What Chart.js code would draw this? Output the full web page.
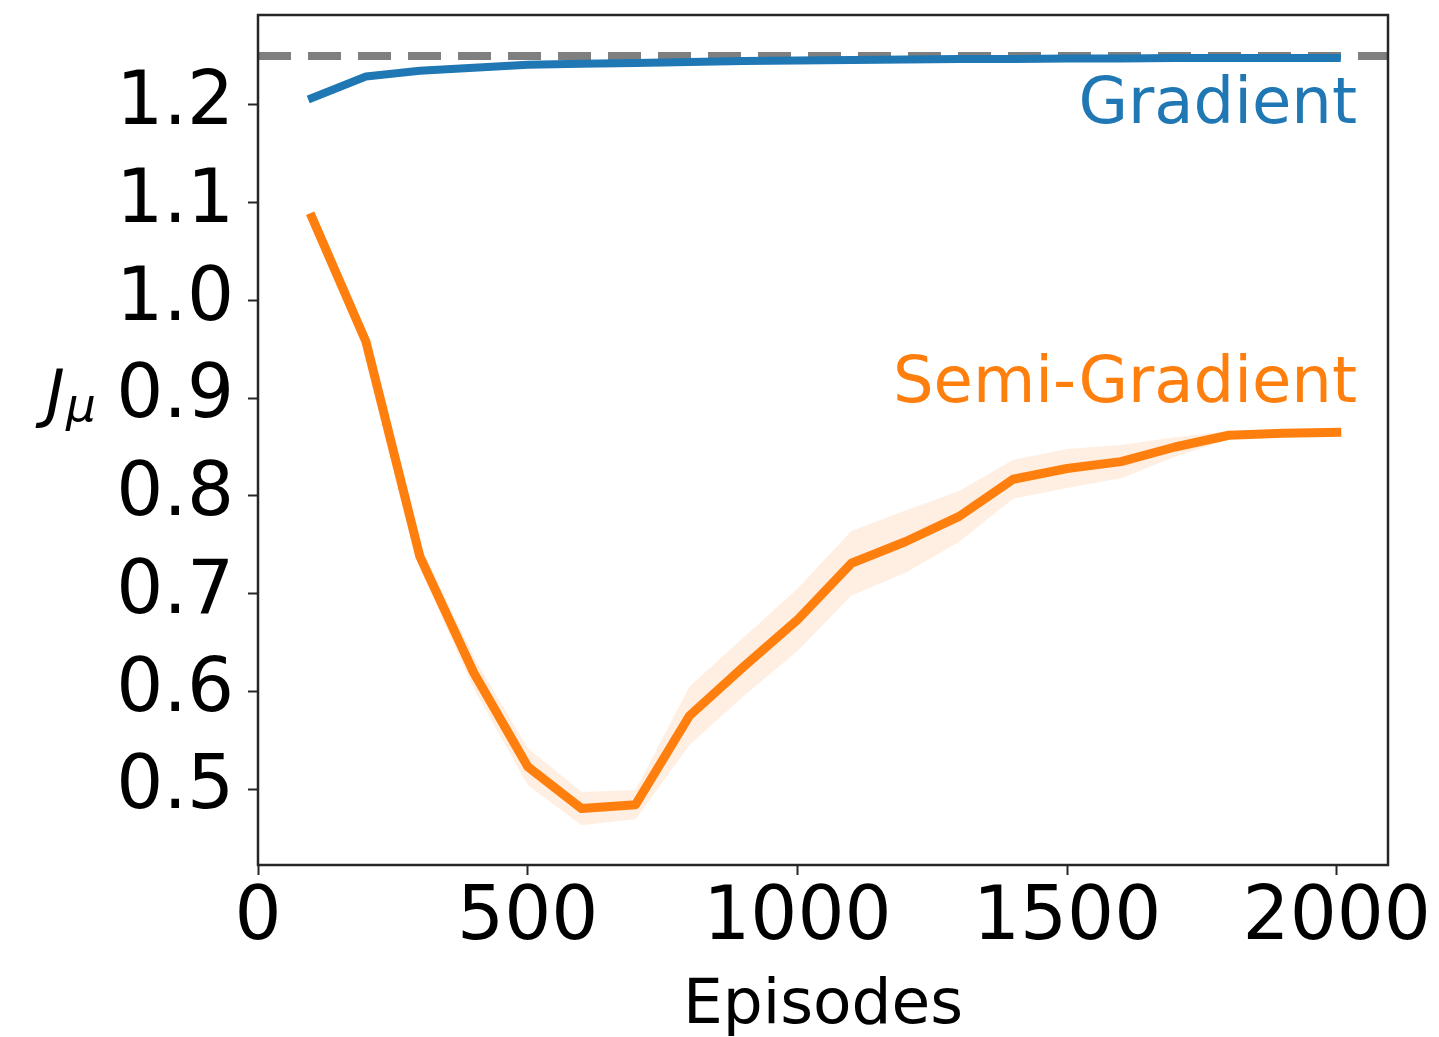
<!DOCTYPE html>
<html>
<head>
<meta charset="utf-8">
<script src="https://cdn.jsdelivr.net/npm/chart.js@4.4.1/dist/chart.umd.min.js"></script>
<style>
  html, body { margin: 0; padding: 0; background: #ffffff; }
  #wrap { width: 1439px; height: 1037px; }
</style>
</head>
<body>
<div id="wrap"><canvas id="chart" width="1439" height="1037"></canvas></div>
<script>
// Training episodes at which the policy was evaluated
const episodes = [100, 200, 300, 400, 500, 600, 700, 800, 900, 1000,
                  1100, 1200, 1300, 1400, 1500, 1600, 1700, 1800, 1900, 2000];

// Mean objective J_mu reached by the gradient method
const gradientMean = [1.207, 1.229, 1.235, 1.238, 1.241, 1.242, 1.243, 1.244, 1.245, 1.2455,
                      1.246, 1.2465, 1.247, 1.247, 1.2475, 1.2475, 1.248, 1.248, 1.248, 1.248];

// Mean objective J_mu reached by the semi-gradient method
const semiMean = [1.085, 0.958, 0.738, 0.619, 0.523, 0.480, 0.484, 0.575, 0.625, 0.673,
                  0.731, 0.753, 0.779, 0.817, 0.828, 0.835, 0.850, 0.862, 0.864, 0.865];

// Half-width of the shaded spread around the semi-gradient mean
const semiSpread = [0.003, 0.006, 0.012, 0.016, 0.019, 0.017, 0.015, 0.030, 0.030, 0.032,
                    0.033, 0.032, 0.026, 0.020, 0.020, 0.017, 0.010, 0.004, 0.003, 0.003];

// Optimal value of the objective (dashed reference line)
const optimumValue = 1.25;

// Axis limits and tick values
const xLimits = [0, 2095];
const yLimits = [0.4223, 1.292];
const xTickValues = [0, 500, 1000, 1500, 2000];
const yTickValues = [0.5, 0.6, 0.7, 0.8, 0.9, 1.0, 1.1, 1.2];

const FONT = "'DejaVu Sans', 'Liberation Sans', sans-serif";
const BLUE = '#1f77b4';
const ORANGE = '#ff7f0e';
const GRAY = '#7f7f7f';

const pts = (ys) => episodes.map((x, i) => ({ x: x, y: ys[i] }));
const semiUpper = semiMean.map((m, i) => m + semiSpread[i]);
const semiLower = semiMean.map((m, i) => m - semiSpread[i]);

// Frame around the plotting area plus the free-standing text labels
const decorations = {
  id: 'decorations',
  afterDraw(chart) {
    const { ctx, chartArea: a } = chart;
    ctx.save();
    ctx.strokeStyle = '#262626';
    ctx.lineWidth = 2.5;
    ctx.strokeRect(a.left, a.top, a.right - a.left, a.bottom - a.top);

    ctx.textBaseline = 'alphabetic';
    ctx.textAlign = 'right';
    ctx.font = '64px ' + FONT;
    ctx.fillStyle = BLUE;
    ctx.fillText('Gradient', a.right - 31, 123);
    ctx.fillStyle = ORANGE;
    ctx.fillText('Semi-Gradient', a.right - 31, 402);

    ctx.textAlign = 'center';
    ctx.fillStyle = '#000000';
    ctx.font = '63px ' + FONT;
    ctx.fillText('Episodes', (a.left + a.right) / 2, 1023);

    // y-axis label J_mu, written horizontally with an italic subscript
    ctx.textAlign = 'left';
    ctx.font = 'italic 64px ' + FONT;
    ctx.fillText('J', 46, 415);
    const jw = ctx.measureText('J').width;
    ctx.font = 'italic 47px ' + FONT;
    ctx.fillText('\u03bc', 46 + jw + 1, 421);
    ctx.restore();
  }
};

const tickGrid = {
  drawOnChartArea: false,
  drawTicks: true,
  tickLength: 10,
  tickWidth: 2,
  tickColor: '#262626'
};

new Chart(document.getElementById('chart'), {
  type: 'line',
  data: {
    datasets: [
      {
        label: 'Gradient',
        data: pts(gradientMean),
        borderColor: BLUE,
        borderWidth: 8,
        borderCapStyle: 'square',
        borderJoinStyle: 'round',
        pointRadius: 0,
        fill: false,
        tension: 0
      },
      {
        label: 'Semi-Gradient',
        data: pts(semiMean),
        borderColor: ORANGE,
        borderWidth: 9,
        borderCapStyle: 'square',
        borderJoinStyle: 'round',
        pointRadius: 0,
        fill: false,
        tension: 0
      },
      {
        label: 'semi upper',
        data: pts(semiUpper),
        borderWidth: 0,
        borderColor: 'rgba(0,0,0,0)',
        pointRadius: 0,
        fill: false,
        tension: 0
      },
      {
        label: 'semi lower',
        data: pts(semiLower),
        borderWidth: 0,
        borderColor: 'rgba(0,0,0,0)',
        backgroundColor: 'rgba(255,127,14,0.12)',
        pointRadius: 0,
        fill: '-1',
        tension: 0
      },
      {
        label: 'optimum',
        data: [{ x: xLimits[0], y: optimumValue }, { x: xLimits[1], y: optimumValue }],
        borderColor: GRAY,
        borderWidth: 8,
        borderDash: [33, 17],
        borderCapStyle: 'butt',
        pointRadius: 0,
        fill: false
      }
    ]
  },
  options: {
    responsive: false,
    animation: false,
    devicePixelRatio: 1,
    layout: { padding: { top: 15, right: 51, left: 0, bottom: 0 } },
    plugins: {
      legend: { display: false },
      tooltip: { enabled: false },
      title: { display: false }
    },
    scales: {
      x: {
        type: 'linear',
        min: xLimits[0],
        max: xLimits[1],
        afterFit(scale) {
          scale.height = 172;
          scale.paddingLeft = 0;
          scale.paddingRight = 0;
        },
        afterBuildTicks(scale) { scale.ticks = xTickValues.map(v => ({ value: v })); },
        grid: tickGrid,
        border: { display: false },
        ticks: {
          color: '#000000',
          font: { family: FONT, size: 74 },
          padding: 0,
          maxRotation: 0,
          autoSkip: false,
          callback: (v) => String(v)
        }
      },
      y: {
        type: 'linear',
        min: yLimits[0],
        max: yLimits[1],
        afterFit(scale) {
          scale.width = 258;
          scale.paddingTop = 0;
          scale.paddingBottom = 0;
        },
        afterBuildTicks(scale) { scale.ticks = yTickValues.map(v => ({ value: v })); },
        grid: tickGrid,
        border: { display: false },
        ticks: {
          color: '#000000',
          font: { family: FONT, size: 74 },
          padding: 14,
          autoSkip: false,
          callback: (v) => Number(v).toFixed(1)
        }
      }
    }
  },
  plugins: [decorations]
});
</script>
</body>
</html>
